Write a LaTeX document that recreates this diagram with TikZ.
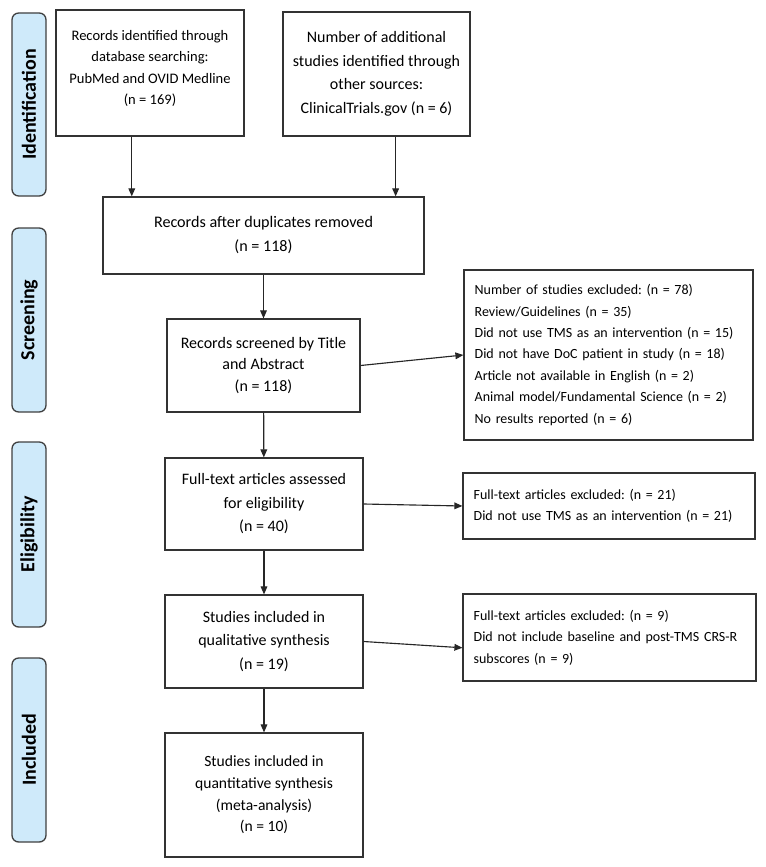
\documentclass[tikz,border=0pt]{standalone}
\usepackage{fontspec}
\setmainfont{Carlito}
\usetikzlibrary{arrows.meta}
\usepackage{xcolor}
\definecolor{stageblue}{HTML}{CFEAFA}
\frenchspacing

\begin{document}
\begin{tikzpicture}[x=0.75pt,y=-0.75pt,->,>={Triangle[length=6pt,width=5pt]},draw=black!85,line width=0.85pt]
    \tikzstyle{every node}=[font=\fontsize{12}{17.6}\selectfont]
    \tikzstyle{box}=[rectangle,draw=black!80,line width=0.9pt,align=center,inner sep=0pt]
    \tikzstyle{excl box}=[box,align=left,inner xsep=8pt,font=\fontsize{10.5}{16.1}\selectfont]
    \tikzstyle{stage}=[rectangle,rounded corners=5pt,draw=black!75,line width=1pt,fill=stageblue,rotate=90,minimum height=25.5pt,inner sep=0pt,font=\fontsize{15}{18}\selectfont\bfseries]

    \useasboundingbox (0,0) rectangle (765,867);

    % stages on the left
    \node[stage, minimum width=137.25pt] (S-1) at (29,104.5) {Identification};
    \node[stage, minimum width=138pt] (S-2) at (29,320) {Screening};
    \node[stage, minimum width=138.75pt] (S-3) at (29,534.5) {Eligibility};
    \node[stage, minimum width=138pt] (S-4) at (29,750) {Included};

    % main column
    \node[box, minimum width=141pt, minimum height=94.5pt, font=\fontsize{10.9}{16.1}\selectfont] (B-1) at (150,73) {Records identified through\\database searching:\\PubMed and OVID Medline\\(n = 169)\\[-8pt]\mbox{}};
    \node[box, minimum width=140.25pt, minimum height=93pt] (B-2) at (376.5,74) {Number of additional\\studies identified through\\other sources:\\ClinicalTrials.gov (n = 6)};
    \node[box, minimum width=240.75pt, minimum height=57.75pt, font=\fontsize{12.1}{18}\selectfont] (B-3) at (263.5,235.5) {Records after duplicates removed\\(n = 118)};
    \node[box, minimum width=144.75pt, minimum height=69.75pt, font=\fontsize{12}{15.9}\selectfont] (B-4) at (263.5,365.5) {Records screened by Title\\and Abstract\\(n = 118)};
    \node[box, minimum width=148.5pt, minimum height=69pt] (B-5) at (264,504) {Full-text articles assessed\\for eligibility\\(n = 40)};
    \node[box, minimum width=148.5pt, minimum height=69.75pt] (B-6) at (264,641.5) {Studies included in\\qualitative synthesis\\(n = 19)};
    \node[box, minimum width=148.5pt, minimum height=93pt, font=\fontsize{11.7}{16.3}\selectfont] (B-7) at (264,795) {Studies included in\\quantitative synthesis\\(meta-analysis)\\(n = 10)};

    % exclusions
    \node[excl box, minimum width=216.75pt, minimum height=127.5pt, text width=200.75pt] (E-1) at (608.5,355) {Number of studies excluded: (n = 78)\\Review/Guidelines (n = 35)\\Did not use TMS as an intervention (n = 15)\\Did not have DoC patient in study (n = 18)\\Article not available in English (n = 2)\\Animal model/Fundamental Science (n = 2)\\No results reported (n = 6)};
    \node[excl box, minimum width=219pt, minimum height=49.5pt, text width=203pt] (E-2) at (609,506) {Full-text articles excluded: (n = 21)\\Did not use TMS as an intervention (n = 21)};
    \node[excl box, minimum width=219.75pt, minimum height=65.25pt, text width=203.75pt] (E-3) at (609.5,637.5) {Full-text articles excluded: (n = 9)\\Did not include baseline and post-TMS CRS-R\\subscores (n = 9)};

    \draw (B-1.-106) -- (B-1.-106 |- B-3.north);
    \draw (B-2.-73) -- (B-2.-73 |- B-3.north);
    \draw (B-3) -- (B-4);
    \draw (B-4) -- (B-5);
    \draw (B-5) -- (B-6);
    \draw (B-6) -- (B-7);
    \draw (B-4.east) -- (E-1.west);
    \draw (B-5.east) -- (E-2.west);
    \draw (B-6.east) -- (E-3.184);

\end{tikzpicture}
\end{document}
